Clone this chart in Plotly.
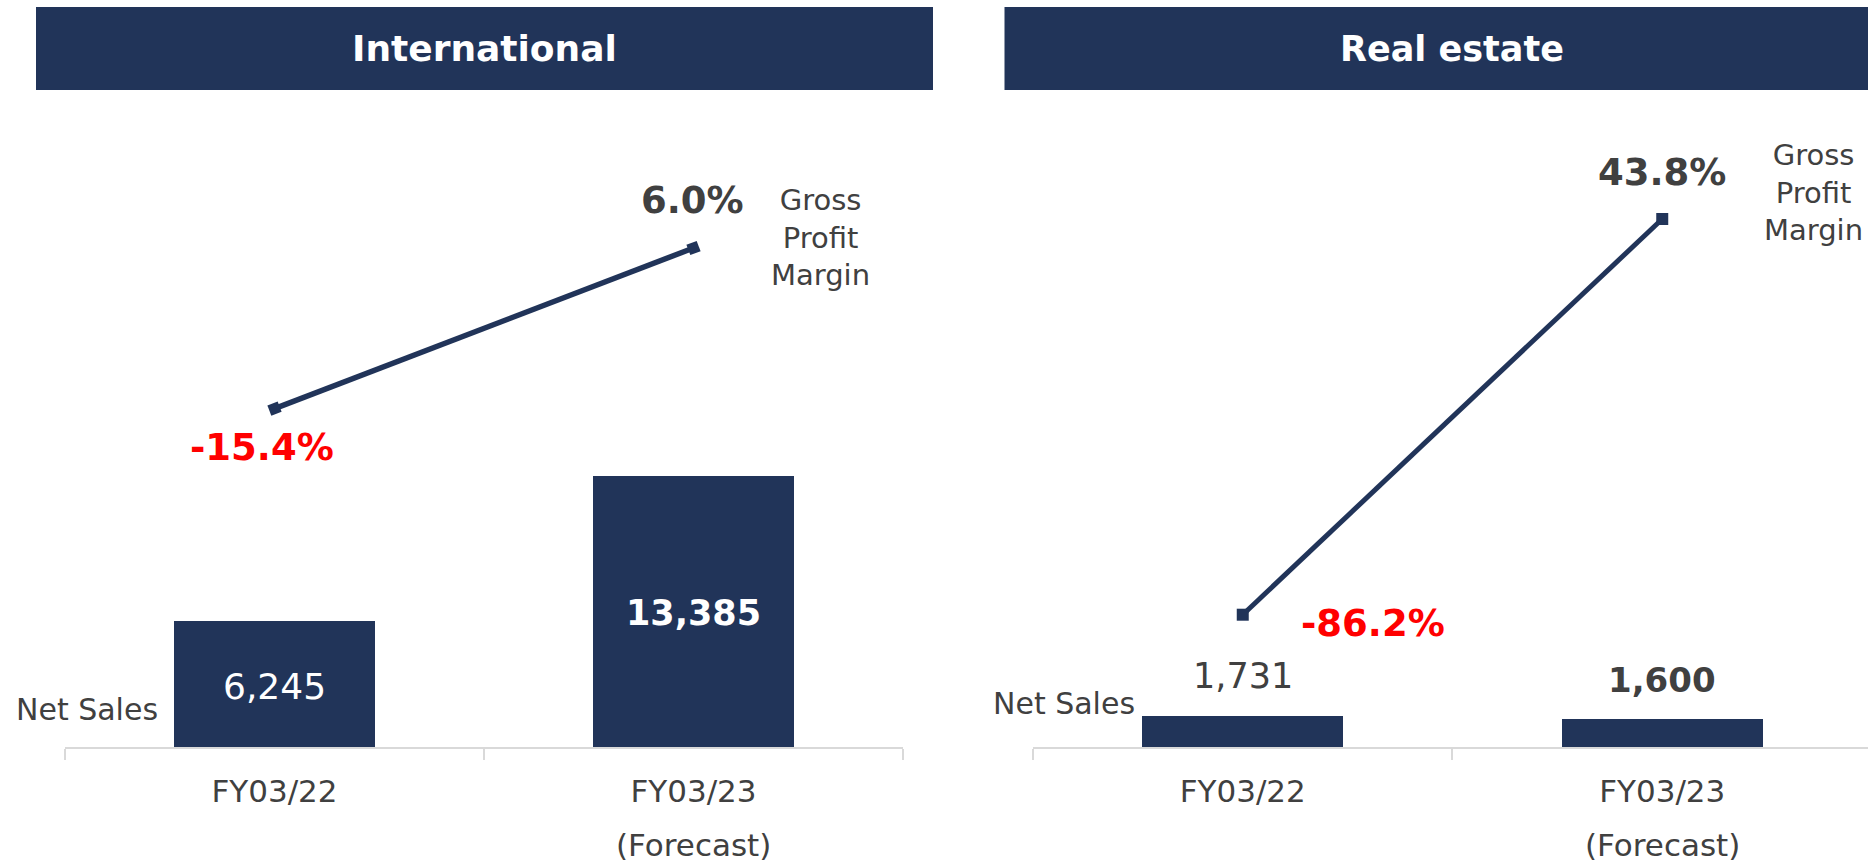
import plotly.graph_objects as go

# ---------------- data ----------------
categories = ["FY03/22", "FY03/23"]
sub_labels = ["", "(Forecast)"]
intl_sales = [6245, 13385]
intl_margin = [-15.4, 6.0]
re_sales = [1731, 1600]
re_margin = [-86.2, 43.8]
panel_titles = ["International", "Real estate"]

W, H = 1868, 862
NAVY = "#213459"
GRAY = "#404040"
RED = "#FF0000"
AXIS = "#D9D9D9"
FONT = "DejaVu Sans"


def px(xp):
    return xp / W


def py(yp):
    return 1 - yp / H


fig = go.Figure()

# bars
fig.add_trace(go.Bar(x=categories, y=intl_sales, xaxis="x", yaxis="y",
                     marker=dict(color=NAVY, line=dict(width=0)), width=0.48,
                     hoverinfo="x+y"))
fig.add_trace(go.Bar(x=categories, y=re_sales, xaxis="x2", yaxis="y2",
                     marker=dict(color=NAVY, line=dict(width=0)), width=0.48,
                     hoverinfo="x+y"))
# margin lines
fig.add_trace(go.Scatter(x=categories, y=intl_margin, xaxis="x", yaxis="y3",
                         mode="lines+markers", cliponaxis=False,
                         line=dict(color=NAVY, width=5.5),
                         marker=dict(symbol="square", size=11, color=NAVY, angle=-21)))
fig.add_trace(go.Scatter(x=categories, y=re_margin, xaxis="x2", yaxis="y4",
                         mode="lines+markers", cliponaxis=False,
                         line=dict(color=NAVY, width=5),
                         marker=dict(symbol="square", size=12, color=NAVY)))

ydom = [115 / H, 762 / H]
xcommon = dict(type="category", tickson="boundaries", ticks="outside", ticklen=11,
               tickcolor=AXIS, tickwidth=1.5, showline=True, linecolor=AXIS,
               linewidth=2, showgrid=False, zeroline=False, fixedrange=True,
               tickfont=dict(family=FONT, size=31, color=GRAY),
               ticklabelstandoff=16)
ycommon = dict(visible=False, showgrid=False, zeroline=False, fixedrange=True)

fig.update_layout(
    width=W, height=H, autosize=False,
    margin=dict(l=0, r=0, t=0, b=0, pad=0),
    paper_bgcolor="white", plot_bgcolor="white",
    showlegend=False, bargap=0,
    xaxis=dict(domain=[px(65), px(903)], range=[-0.5, 1.5], anchor="y", **xcommon),
    xaxis2=dict(domain=[px(1033), 1.0], range=[-0.5, 1.4905], anchor="y2", **xcommon),
    yaxis=dict(domain=ydom, range=[0, 31956], anchor="x", **ycommon),
    yaxis2=dict(domain=ydom, range=[0, 36500], anchor="x2", **ycommon),
    yaxis3=dict(domain=ydom, range=[-60.49, 25.72], overlaying="y", anchor="x", **ycommon),
    yaxis4=dict(domain=ydom, range=[-129.66, 82.89], overlaying="y2", anchor="x2", **ycommon),
)

# header boxes
fig.add_shape(type="rect", xref="paper", yref="paper", x0=px(36), x1=px(933),
              y0=py(90), y1=py(7), fillcolor=NAVY, line=dict(width=0), layer="below")
fig.add_shape(type="rect", xref="paper", yref="paper", x0=px(1004.5), x1=1.0,
              y0=py(90), y1=py(7), fillcolor=NAVY, line=dict(width=0), layer="below")
for title, cx, fs in zip(panel_titles, [484, 1452], [36, 35]):
    fig.add_annotation(text=f"<b>{title}</b>", xref="paper", yref="paper",
                       x=px(cx), y=py(49), xanchor="center", yanchor="middle",
                       showarrow=False, font=dict(family=FONT, size=fs, color="white"))

# "(Forecast)" sub labels
for xa in ["x", "x2"]:
    for cat, sub in zip(categories, sub_labels):
        if sub:
            fig.add_annotation(text=sub, xref=xa, yref="paper", x=cat, y=py(845),
                               xanchor="center", yanchor="middle", showarrow=False,
                               font=dict(family=FONT, size=31, color=GRAY))

# Net Sales labels
fig.add_annotation(text="Net Sales", xref="paper", yref="paper", x=px(87), y=py(709),
                   xanchor="center", yanchor="middle", showarrow=False,
                   font=dict(family=FONT, size=30, color=GRAY))
fig.add_annotation(text="Net Sales", xref="paper", yref="paper", x=px(1064), y=py(703),
                   xanchor="center", yanchor="middle", showarrow=False,
                   font=dict(family=FONT, size=30, color=GRAY))

# Gross Profit Margin labels
fig.add_annotation(text="Gross<br>Profit<br>Margin", xref="paper", yref="paper",
                   x=px(820), y=py(237), xanchor="center", yanchor="middle",
                   showarrow=False, align="center",
                   font=dict(family=FONT, size=29, color=GRAY))
fig.add_annotation(text="Gross<br>Profit<br>Margin", xref="paper", yref="paper",
                   x=px(1813), y=py(193), xanchor="center", yanchor="middle",
                   showarrow=False, align="center",
                   font=dict(family=FONT, size=29, color=GRAY))

# International sales labels (inside bars)
fig.add_annotation(text=f"{intl_sales[0]:,}", xref="x", yref="y", x=categories[0],
                   y=intl_sales[0] / 2, yshift=-3, showarrow=False,
                   font=dict(family=FONT, size=36, color="white"))
fig.add_annotation(text=f"<b>{intl_sales[1]:,}</b>", xref="x", yref="y", x=categories[1],
                   y=intl_sales[1] / 2, yshift=-1, showarrow=False,
                   font=dict(family=FONT, size=35, color="white"))

# Real estate sales labels (above bars)
fig.add_annotation(text=f"{re_sales[0]:,}", xref="x2", yref="y2", x=categories[0],
                   y=re_sales[0], yshift=40, showarrow=False,
                   font=dict(family=FONT, size=35, color=GRAY))
fig.add_annotation(text=f"<b>{re_sales[1]:,}</b>", xref="x2", yref="y2", x=categories[1],
                   y=re_sales[1], yshift=39, showarrow=False,
                   font=dict(family=FONT, size=34, color=GRAY))

# margin labels
def pct(v):
    return f"<b>{v:.1f}%</b>"

fig.add_annotation(text=pct(intl_margin[0]), xref="x", yref="y3", x=categories[0],
                   y=intl_margin[0], xshift=-13, yshift=-39, showarrow=False,
                   font=dict(family=FONT, size=37, color=RED))
fig.add_annotation(text=pct(intl_margin[1]), xref="x", yref="y3", x=categories[1],
                   y=intl_margin[1], xshift=-1, yshift=48, showarrow=False,
                   font=dict(family=FONT, size=37, color=GRAY))
fig.add_annotation(text=pct(re_margin[0]), xref="x2", yref="y4", x=categories[0],
                   y=re_margin[0], xshift=130, yshift=-9, showarrow=False,
                   font=dict(family=FONT, size=37, color=RED))
fig.add_annotation(text=pct(re_margin[1]), xref="x2", yref="y4", x=categories[1],
                   y=re_margin[1], xshift=0, yshift=46, showarrow=False,
                   font=dict(family=FONT, size=37, color=GRAY))

fig.write_html("out.html", config={"displayModeBar": False},
               post_script="document.body.style.margin='0';document.body.style.overflow='hidden';")
